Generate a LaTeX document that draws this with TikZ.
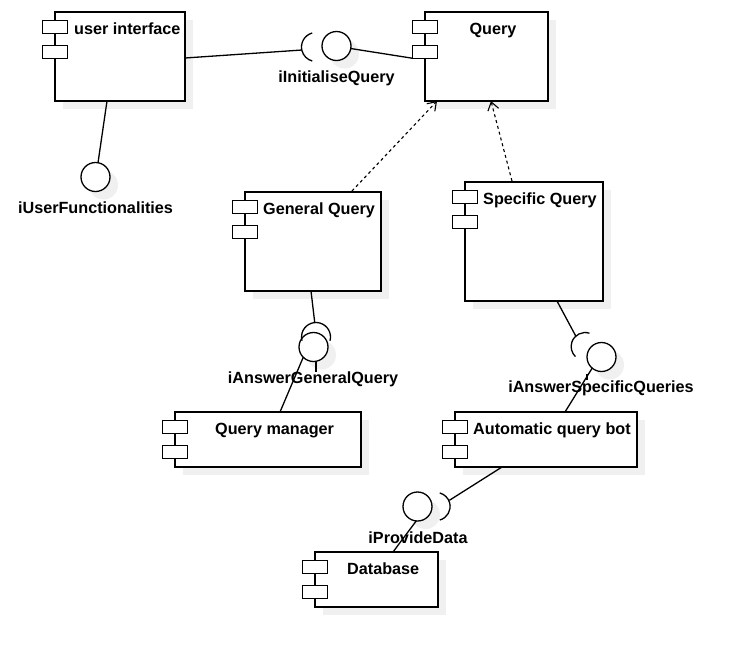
\documentclass[tikz,border=0pt]{standalone}
\usepackage{fontspec}
\setmainfont{Liberation Sans}
\usetikzlibrary{calc,arrows.meta}
\definecolor{shadowgray}{RGB}{240,240,240}
\begin{document}
\begin{tikzpicture}[x=1pt,y=-1pt,
  shade8/.style={preaction={fill=shadowgray,draw=none,transform canvas={shift={(8pt,-8pt)}}}},
  comp/.style={draw,line width=1.3pt,fill=white,rectangle,inner sep=0,outer sep=0,shade8},
  port/.style={draw,line width=1.3pt,fill=white,rectangle,minimum width=25pt,minimum height=12.5pt,inner sep=0,outer sep=0},
  ball/.style={circle,draw,line width=1.3pt,fill=white,minimum size=29pt,inner sep=0,outer sep=0,shade8},
  sock/.style={circle,minimum size=29pt,inner sep=0,outer sep=0},
  ttl/.style={font=\fontsize{16.2}{19}\selectfont\bfseries,inner sep=0,anchor=base west},
  lab/.style={font=\fontsize{16.2}{19}\selectfont\bfseries,inner sep=0,anchor=base},
  conn/.style={line width=1.3pt},
  dep/.style={line width=1.1pt,dash pattern=on 3pt off 3pt,-{Straight Barb[length=8pt,width=11pt,line width=1.1pt]}}
]
\useasboundingbox (0,0) rectangle (748,657);
\fill[white] (0,0) rectangle (748,657);

% components
\node[comp,minimum width=130pt,minimum height=89pt] (ui) at (120,56.5) {};
\node[comp,minimum width=123pt,minimum height=89pt] (query) at (486.5,56.5) {};
\node[comp,minimum width=136pt,minimum height=99pt] (gq) at (313,241.5) {};
\node[comp,minimum width=138pt,minimum height=119pt] (sq) at (534,241.5) {};
\node[comp,minimum width=186pt,minimum height=55pt] (qm) at (268,439.5) {};
\node[comp,minimum width=182pt,minimum height=55pt] (aqb) at (546,439.5) {};
\node[comp,minimum width=123pt,minimum height=55pt] (db) at (376.5,579.5) {};

% balls and sockets
\node[ball] (b1) at (336.5,46) {};
\node[sock] (s1) at (316,47) {};
\node[ball] (b2) at (95.5,177) {};
\node[ball] (b3) at (313.5,347) {};
\node[sock] (s2) at (316,337) {};
\node[ball] (b4) at (601.5,357) {};
\node[sock] (s3) at (585,347) {};
\node[ball] (b5) at (417.5,506.5) {};
\node[sock] (s4) at (436,506) {};

\draw[conn] (s1.105) arc[start angle=105,end angle=255,radius=14.5pt];
\draw[conn] (s2.-15) arc[start angle=-15,end angle=195,radius=14.5pt];
\draw[conn] (s3.72) arc[start angle=72,end angle=226,radius=14pt];
\draw[conn] (s4.-75) arc[start angle=-75,end angle=75,radius=14pt];

% ports
\foreach \c in {ui,query,gq,sq,qm,aqb,db}{
  \node[port] (\c p1) at ($(\c.north west)+(0,15)$) {};
  \node[port] (\c p2) at ($(\c.north west)+(0,40)$) {};
}

% connectors
\draw[conn] ($(ui.east)+(0,1.5)$) -- (s1.192);
\draw[conn] (b1.-10) -- (queryp2.south west);
\draw[conn] ($(ui.south)+(-13,0)$) -- (b2.80);
\draw[dep] ($(gq.north)+(39,-1)$) -- ($(query.south west)+(12,0)$);
\draw[dep] ($(sq.north)+(-22,-1)$) -- ($(query.south)+(4.5,0)$);
\draw[conn] ($(gq.south)+(-2,0)$) -- (s2.95);
\draw[conn] (b3.225) -- ($(qm.north)+(12,0)$);
\draw[conn] ($(b3.south)+(2.5,-1)$) -- ($(b3.south)+(2.5,10)$);
\draw[conn] ($(sq.south)+(23,0)$) -- (s3.130);
\draw[conn] (b4.230) -- ($(aqb.north)+(19,0)$);
\draw[conn] ($(b4.south)+(-14.5,2)$) -- ($(b4.south)+(-14.5,8)$);
\draw[conn] ($(aqb.south)+(-44,0)$) -- (s4.23);
\draw[conn] (b5.265) -- ($(db.north)+(16.5,0)$);

% titles
\node[ttl] (tui) at (74,34) {user interface};
\node[lab] (tq) at (493,34) {Query};
\node[ttl] (tgq) at (263,214) {General Query};
\node[ttl] (tsq) at (483,204) {Specific Query};
\node[ttl] (tqm) at (215,434) {Query manager};
\node[ttl] (taqb) at (473,434) {Automatic query bot};
\node[ttl] (tdb) at (347,574) {Database};

% interface labels
\node[lab] (l1) at (336.5,82) {iInitialiseQuery};
\node[lab] (l2) at (95.5,213) {iUserFunctionalities};
\node[lab] (l3) at (313,383) {iAnswerGeneralQuery};
\node[lab] (l4) at (601,392) {iAnswerSpecificQueries};
\node[lab] (l5) at (418,543) {iProvideData};
\end{tikzpicture}
\end{document}
